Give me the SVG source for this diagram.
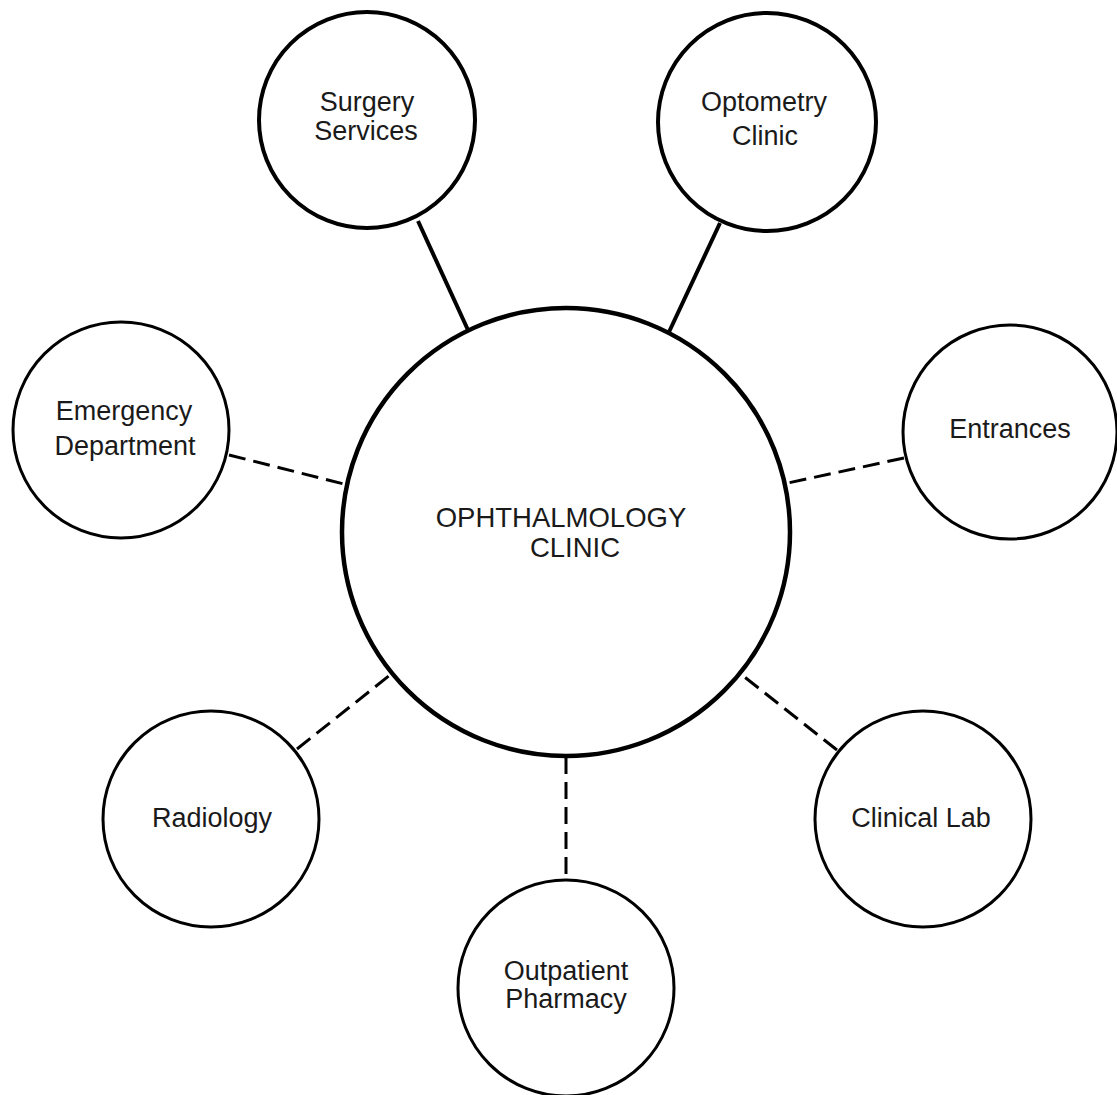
<svg xmlns="http://www.w3.org/2000/svg" width="1117" height="1095" viewBox="0 0 1117 1095">
<style>
.node{fill:#fff;stroke:#000;stroke-width:3}
.thick{stroke-width:4}
.center{stroke-width:4.5}
.lbl{font-family:"Liberation Sans",Arial,sans-serif;font-size:27px;fill:#1a1a1a;text-anchor:middle}
.solid{stroke:#000;stroke-width:4;fill:none}
.dash{stroke:#000;stroke-width:3;fill:none;stroke-dasharray:17 8}
</style>
<rect width="1117" height="1095" fill="#fff"/>
<g id="connectors">
<line class="solid" x1="418" y1="221" x2="468" y2="330"/>
<line class="solid" x1="720" y1="223" x2="669" y2="332"/>
<line class="dash" x1="229" y1="455" x2="344" y2="484"/>
<line class="dash" x1="904" y1="458" x2="788" y2="483"/>
<line class="dash" x1="297" y1="749" x2="390" y2="675"/>
<line class="dash" x1="837" y1="750" x2="742" y2="675"/>
<line class="dash" x1="566" y1="757" x2="566" y2="880"/>
</g>
<g id="ophthalmology">
<circle class="node center" cx="566" cy="532" r="224"/>
<text class="lbl" x="561" y="527" style="font-size:27.5px">OPHTHALMOLOGY</text>
<text class="lbl" x="575" y="557" style="font-size:27.5px">CLINIC</text>
</g>
<g id="surgery">
<circle class="node thick" cx="367" cy="120" r="108"/>
<text class="lbl" x="367" y="111">Surgery</text>
<text class="lbl" x="366" y="140">Services</text>
</g>
<g id="optometry">
<circle class="node thick" cx="767" cy="122" r="109"/>
<text class="lbl" x="764" y="111">Optometry</text>
<text class="lbl" x="765" y="145">Clinic</text>
</g>
<g id="emergency">
<circle class="node" cx="121" cy="430" r="108"/>
<text class="lbl" x="124" y="420">Emergency</text>
<text class="lbl" x="125" y="455">Department</text>
</g>
<g id="entrances">
<circle class="node" cx="1010" cy="432" r="107"/>
<text class="lbl" x="1010" y="438">Entrances</text>
</g>
<g id="radiology">
<circle class="node" cx="211" cy="819" r="108"/>
<text class="lbl" x="212" y="827">Radiology</text>
</g>
<g id="clinical-lab">
<circle class="node" cx="923" cy="819" r="108"/>
<text class="lbl" x="921" y="827">Clinical Lab</text>
</g>
<g id="pharmacy">
<circle class="node" cx="566" cy="988" r="108"/>
<text class="lbl" x="566" y="980">Outpatient</text>
<text class="lbl" x="566" y="1008">Pharmacy</text>
</g>
</svg>
